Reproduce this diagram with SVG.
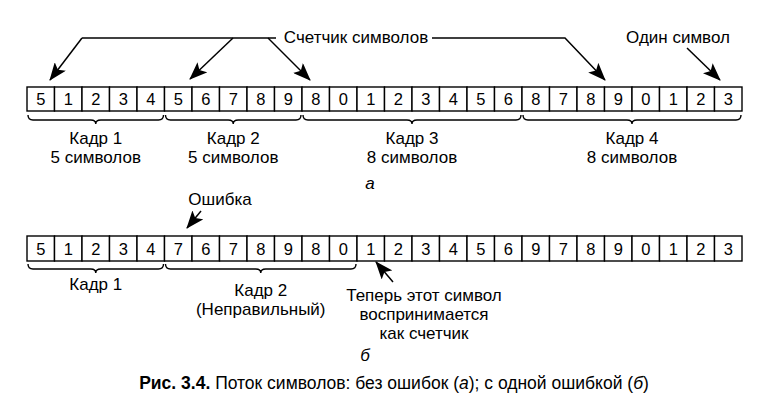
<svg xmlns="http://www.w3.org/2000/svg" width="783" height="409" viewBox="0 0 783 409">
<style>
text{font-family:"Liberation Sans",Arial,sans-serif;fill:#000}
.d{font-size:16.5px;text-anchor:middle}
.l{font-size:17px;text-anchor:middle}
.i{font-style:italic}
rect{fill:#fff;stroke:#000;stroke-width:1.4}
.br{fill:none;stroke:#000;stroke-width:1.4}
.c line,.c polyline{fill:none;stroke:#000;stroke-width:1.5}
</style>
<defs>
<marker id="ah" markerUnits="userSpaceOnUse" markerWidth="18" markerHeight="14" refX="17" refY="7" orient="auto">
<path d="M0,0 L18,7 L0,14 L4,7 z" fill="#000"/>
</marker>
</defs>
<rect x="0" y="0" width="783" height="409" style="stroke:none"/>
<g id="rowA">
<g id="a0"><rect x="27" y="87" width="27.5" height="24"/><text class="d" x="40.75" y="105">5</text></g>
<g id="a1"><rect x="54.5" y="87" width="27.5" height="24"/><text class="d" x="68.25" y="105">1</text></g>
<g id="a2"><rect x="82" y="87" width="27.5" height="24"/><text class="d" x="95.75" y="105">2</text></g>
<g id="a3"><rect x="109.5" y="87" width="27.5" height="24"/><text class="d" x="123.25" y="105">3</text></g>
<g id="a4"><rect x="137" y="87" width="27.5" height="24"/><text class="d" x="150.75" y="105">4</text></g>
<g id="a5"><rect x="164.5" y="87" width="27.5" height="24"/><text class="d" x="178.25" y="105">5</text></g>
<g id="a6"><rect x="192" y="87" width="27.5" height="24"/><text class="d" x="205.75" y="105">6</text></g>
<g id="a7"><rect x="219.5" y="87" width="27.5" height="24"/><text class="d" x="233.25" y="105">7</text></g>
<g id="a8"><rect x="247" y="87" width="27.5" height="24"/><text class="d" x="260.75" y="105">8</text></g>
<g id="a9"><rect x="274.5" y="87" width="27.5" height="24"/><text class="d" x="288.25" y="105">9</text></g>
<g id="a10"><rect x="302" y="87" width="27.5" height="24"/><text class="d" x="315.75" y="105">8</text></g>
<g id="a11"><rect x="329.5" y="87" width="27.5" height="24"/><text class="d" x="343.25" y="105">0</text></g>
<g id="a12"><rect x="357" y="87" width="27.5" height="24"/><text class="d" x="370.75" y="105">1</text></g>
<g id="a13"><rect x="384.5" y="87" width="27.5" height="24"/><text class="d" x="398.25" y="105">2</text></g>
<g id="a14"><rect x="412" y="87" width="27.5" height="24"/><text class="d" x="425.75" y="105">3</text></g>
<g id="a15"><rect x="439.5" y="87" width="27.5" height="24"/><text class="d" x="453.25" y="105">4</text></g>
<g id="a16"><rect x="467" y="87" width="27.5" height="24"/><text class="d" x="480.75" y="105">5</text></g>
<g id="a17"><rect x="494.5" y="87" width="27.5" height="24"/><text class="d" x="508.25" y="105">6</text></g>
<g id="a18"><rect x="522" y="87" width="27.5" height="24"/><text class="d" x="535.75" y="105">8</text></g>
<g id="a19"><rect x="549.5" y="87" width="27.5" height="24"/><text class="d" x="563.25" y="105">7</text></g>
<g id="a20"><rect x="577" y="87" width="27.5" height="24"/><text class="d" x="590.75" y="105">8</text></g>
<g id="a21"><rect x="604.5" y="87" width="27.5" height="24"/><text class="d" x="618.25" y="105">9</text></g>
<g id="a22"><rect x="632" y="87" width="27.5" height="24"/><text class="d" x="645.75" y="105">0</text></g>
<g id="a23"><rect x="659.5" y="87" width="27.5" height="24"/><text class="d" x="673.25" y="105">1</text></g>
<g id="a24"><rect x="687" y="87" width="27.5" height="24"/><text class="d" x="700.75" y="105">2</text></g>
<g id="a25"><rect x="714.5" y="87" width="27.5" height="24"/><text class="d" x="728.25" y="105">3</text></g>
</g>
<g id="rowB">
<g id="b0"><rect x="27" y="236" width="27.5" height="25"/><text class="d" x="40.75" y="255">5</text></g>
<g id="b1"><rect x="54.5" y="236" width="27.5" height="25"/><text class="d" x="68.25" y="255">1</text></g>
<g id="b2"><rect x="82" y="236" width="27.5" height="25"/><text class="d" x="95.75" y="255">2</text></g>
<g id="b3"><rect x="109.5" y="236" width="27.5" height="25"/><text class="d" x="123.25" y="255">3</text></g>
<g id="b4"><rect x="137" y="236" width="27.5" height="25"/><text class="d" x="150.75" y="255">4</text></g>
<g id="b5"><rect x="164.5" y="236" width="27.5" height="25"/><text class="d" x="178.25" y="255">7</text></g>
<g id="b6"><rect x="192" y="236" width="27.5" height="25"/><text class="d" x="205.75" y="255">6</text></g>
<g id="b7"><rect x="219.5" y="236" width="27.5" height="25"/><text class="d" x="233.25" y="255">7</text></g>
<g id="b8"><rect x="247" y="236" width="27.5" height="25"/><text class="d" x="260.75" y="255">8</text></g>
<g id="b9"><rect x="274.5" y="236" width="27.5" height="25"/><text class="d" x="288.25" y="255">9</text></g>
<g id="b10"><rect x="302" y="236" width="27.5" height="25"/><text class="d" x="315.75" y="255">8</text></g>
<g id="b11"><rect x="329.5" y="236" width="27.5" height="25"/><text class="d" x="343.25" y="255">0</text></g>
<g id="b12"><rect x="357" y="236" width="27.5" height="25"/><text class="d" x="370.75" y="255">1</text></g>
<g id="b13"><rect x="384.5" y="236" width="27.5" height="25"/><text class="d" x="398.25" y="255">2</text></g>
<g id="b14"><rect x="412" y="236" width="27.5" height="25"/><text class="d" x="425.75" y="255">3</text></g>
<g id="b15"><rect x="439.5" y="236" width="27.5" height="25"/><text class="d" x="453.25" y="255">4</text></g>
<g id="b16"><rect x="467" y="236" width="27.5" height="25"/><text class="d" x="480.75" y="255">5</text></g>
<g id="b17"><rect x="494.5" y="236" width="27.5" height="25"/><text class="d" x="508.25" y="255">6</text></g>
<g id="b18"><rect x="522" y="236" width="27.5" height="25"/><text class="d" x="535.75" y="255">9</text></g>
<g id="b19"><rect x="549.5" y="236" width="27.5" height="25"/><text class="d" x="563.25" y="255">7</text></g>
<g id="b20"><rect x="577" y="236" width="27.5" height="25"/><text class="d" x="590.75" y="255">8</text></g>
<g id="b21"><rect x="604.5" y="236" width="27.5" height="25"/><text class="d" x="618.25" y="255">9</text></g>
<g id="b22"><rect x="632" y="236" width="27.5" height="25"/><text class="d" x="645.75" y="255">0</text></g>
<g id="b23"><rect x="659.5" y="236" width="27.5" height="25"/><text class="d" x="673.25" y="255">1</text></g>
<g id="b24"><rect x="687" y="236" width="27.5" height="25"/><text class="d" x="700.75" y="255">2</text></g>
<g id="b25"><rect x="714.5" y="236" width="27.5" height="25"/><text class="d" x="728.25" y="255">3</text></g>
</g>
<g id="braces">
<path class="br" d="M28,115 q0,5 5,5 H90.75 q5,0 5,4 q0,-4 5,-4 H158.5 q5,0 5,-5"/>
<path class="br" d="M165.5,115 q0,5 5,5 H228.25 q5,0 5,4 q0,-4 5,-4 H296 q5,0 5,-5"/>
<path class="br" d="M303,115 q0,5 5,5 H407 q5,0 5,4 q0,-4 5,-4 H516 q5,0 5,-5"/>
<path class="br" d="M523,115 q0,5 5,5 H627 q5,0 5,4 q0,-4 5,-4 H736 q5,0 5,-5"/>
<path class="br" d="M28,264 q0,5 5,5 H90.75 q5,0 5,4 q0,-4 5,-4 H158.5 q5,0 5,-5"/>
<path class="br" d="M165.5,264 q0,5 5,5 H255.75 q5,0 5,4 q0,-4 5,-4 H351 q5,0 5,-5"/>
</g>
<g id="labels">
<text class="l" x="356" y="43">Счетчик символов</text>
<text class="l" x="678" y="43">Один символ</text>
<text class="l" x="95.75" y="144">Кадр 1</text>
<text class="l" x="95.75" y="163">5 символов</text>
<text class="l" x="233.25" y="144">Кадр 2</text>
<text class="l" x="233.25" y="163">5 символов</text>
<text class="l" x="412" y="144">Кадр 3</text>
<text class="l" x="412" y="163">8 символов</text>
<text class="l" x="632" y="144">Кадр 4</text>
<text class="l" x="632" y="163">8 символов</text>
<text class="l i" x="370" y="189">а</text>
<text class="l" x="220" y="205">Ошибка</text>
<text class="l" x="95.75" y="290">Кадр 1</text>
<text class="l" x="260.75" y="296">Кадр 2</text>
<text class="l" x="260.75" y="315">(Неправильный)</text>
<text class="l" x="424" y="301">Теперь этот символ</text>
<text class="l" x="424" y="320">воспринимается</text>
<text class="l" x="424" y="339">как счетчик</text>
<text class="l i" x="365" y="361">б</text>
<text x="394" y="389" style="font-size:17.5px;text-anchor:middle"><tspan font-weight="bold">Рис. 3.4.</tspan> Поток символов: без ошибок (<tspan font-style="italic">а</tspan>); с одной ошибкой (<tspan font-style="italic">б</tspan>)</text>
</g>
<g id="connectors" class="c">
<line x1="82" y1="38" x2="276" y2="38"/>
<polyline points="82,38 50,80" marker-end="url(#ah)"/>
<line x1="233" y1="38" x2="190" y2="79" marker-end="url(#ah)"/>
<line x1="268" y1="38" x2="310" y2="80" marker-end="url(#ah)"/>
<polyline points="432,38 565,38 605,80" marker-end="url(#ah)"/>
<line x1="687" y1="48" x2="720" y2="80" marker-end="url(#ah)"/>
<line x1="201" y1="211" x2="187" y2="228" marker-end="url(#ah)"/>
<line x1="393" y1="282" x2="376" y2="262" marker-end="url(#ah)"/>
</g>
</svg>
